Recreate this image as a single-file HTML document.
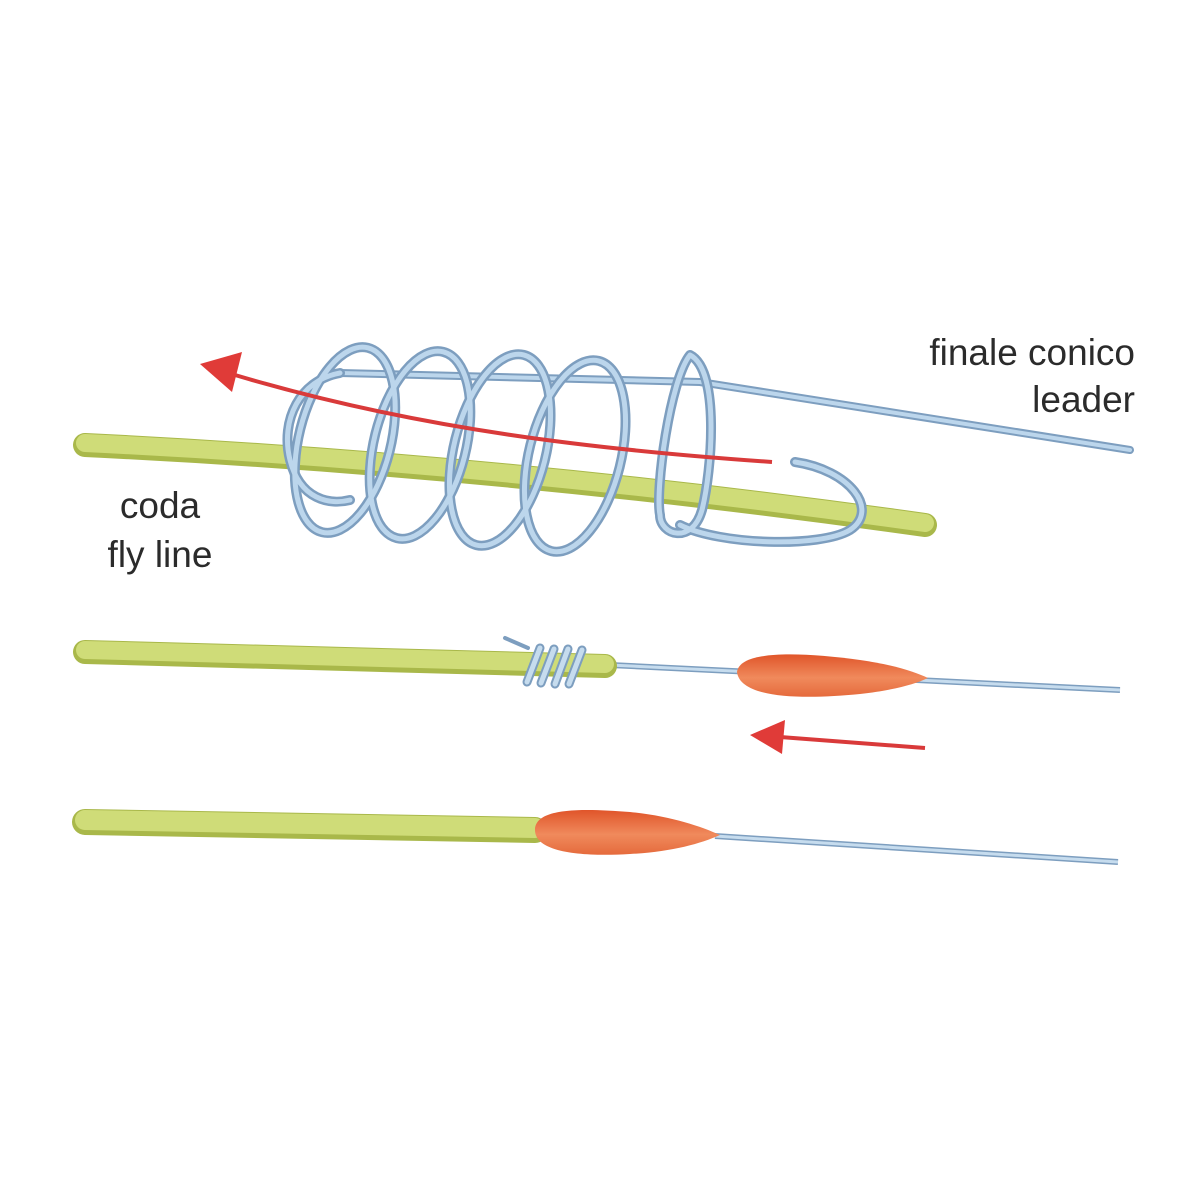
<!DOCTYPE html>
<html><head><meta charset="utf-8"><style>
html,body{margin:0;padding:0;background:#fff;}
svg{display:block}
text{font-family:"Liberation Sans",sans-serif;fill:#2b2b2b;font-size:37px}
</style></head><body>
<svg width="1200" height="1200" viewBox="0 0 1200 1200" xmlns="http://www.w3.org/2000/svg">
<defs>
<linearGradient id="og" x1="0" y1="0" x2="0" y2="1">
<stop offset="0" stop-color="#e0552a"/><stop offset="0.55" stop-color="#f08a5c"/><stop offset="1" stop-color="#e56a3c"/>
</linearGradient>
</defs>
<path d="M340,373 L700,382 L1130,450" fill="none" stroke="#7d9ebf" stroke-width="8" stroke-linecap="round"/>
<path d="M340,373 L700,382 L1130,450" fill="none" stroke="#bcd6ec" stroke-width="4" stroke-linecap="round"/>
<path d="M85,445 Q500,465 925,525" fill="none" stroke="#a9b84a" stroke-width="24" stroke-linecap="round"/>
<path d="M85,443 Q500,463 925,523" fill="none" stroke="#cfdc78" stroke-width="18" stroke-linecap="round"/>
<g fill="none" stroke-linecap="round">
<g stroke="#7d9ebf" stroke-width="10">
<path d="M340,373 C300,380 280,420 290,460 C300,500 330,505 350,500"/>
<ellipse cx="345" cy="440" rx="46" ry="95" transform="rotate(14 345 440)"/>
<ellipse cx="420" cy="445" rx="46" ry="96" transform="rotate(14 420 445)"/>
<ellipse cx="500" cy="450" rx="46" ry="98" transform="rotate(14 500 450)"/>
<ellipse cx="575" cy="456" rx="46" ry="98" transform="rotate(14 575 456)"/>
<path d="M690,355 C720,370 712,470 702,510 C692,545 660,535 660,515 C655,490 670,380 690,355"/>
<path d="M680,525 C720,545 820,548 850,530 C880,510 850,470 795,462"/>
</g>
<g stroke="#bcd6ec" stroke-width="5">
<path d="M340,373 C300,380 280,420 290,460 C300,500 330,505 350,500"/>
<ellipse cx="345" cy="440" rx="46" ry="95" transform="rotate(14 345 440)"/>
<ellipse cx="420" cy="445" rx="46" ry="96" transform="rotate(14 420 445)"/>
<ellipse cx="500" cy="450" rx="46" ry="98" transform="rotate(14 500 450)"/>
<ellipse cx="575" cy="456" rx="46" ry="98" transform="rotate(14 575 456)"/>
<path d="M690,355 C720,370 712,470 702,510 C692,545 660,535 660,515 C655,490 670,380 690,355"/>
<path d="M680,525 C720,545 820,548 850,530 C880,510 850,470 795,462"/>
</g>
</g>
<path d="M772,462 C600,450 420,430 235,375" fill="none" stroke="#d93a3a" stroke-width="4"/>
<polygon points="200,364 242,352 232,392" fill="#e03b38"/>
<text x="1135" y="365" text-anchor="end">finale conico</text>
<text x="1135" y="412" text-anchor="end">leader</text>
<text x="160" y="518" text-anchor="middle">coda</text>
<text x="160" y="567" text-anchor="middle">fly line</text>

<path d="M610,665 L1120,690" stroke="#7d9ebf" stroke-width="6" fill="none"/>
<path d="M610,665 L1120,690" stroke="#c6dcee" stroke-width="3" fill="none"/>
<path d="M85,652 L605,666" stroke="#a9b84a" stroke-width="24" stroke-linecap="round" fill="none"/>
<path d="M85,650 L605,664" stroke="#cfdc78" stroke-width="18" stroke-linecap="round" fill="none"/>
<g fill="none" stroke-linecap="round">
<path d="M505,638 L528,648" stroke="#7d9ebf" stroke-width="4"/>
<g stroke="#7d9ebf" stroke-width="9">
<path d="M527,682 L540,648"/><path d="M541,683 L554,649"/><path d="M555,684 L568,649"/><path d="M569,684 L582,650"/>
</g>
<g stroke="#c6dcee" stroke-width="5">
<path d="M527,682 L540,648"/><path d="M541,683 L554,649"/><path d="M555,684 L568,649"/><path d="M569,684 L582,650"/>
</g>
</g>
<path d="M737,672 C740,650 800,652 860,660 C895,665 915,672 928,678 C915,684 895,690 860,694 C800,700 740,698 737,672 Z" fill="url(#og)"/>
<path d="M925,748 L780,737" stroke="#d93a3a" stroke-width="4"/>
<polygon points="750,735 785,720 782,754" fill="#e03b38"/>

<path d="M715,836 L1118,862" stroke="#7d9ebf" stroke-width="6" fill="none"/>
<path d="M715,836 L1118,862" stroke="#c6dcee" stroke-width="3" fill="none"/>
<path d="M85,822 L535,830" stroke="#a9b84a" stroke-width="26" stroke-linecap="round" fill="none"/>
<path d="M85,820 L535,828" stroke="#cfdc78" stroke-width="20" stroke-linecap="round" fill="none"/>
<path d="M535,830 C535,808 580,808 630,812 C670,816 700,826 720,835 C700,844 670,852 630,854 C580,857 535,852 535,830 Z" fill="url(#og)"/>
</svg>
</body></html>
